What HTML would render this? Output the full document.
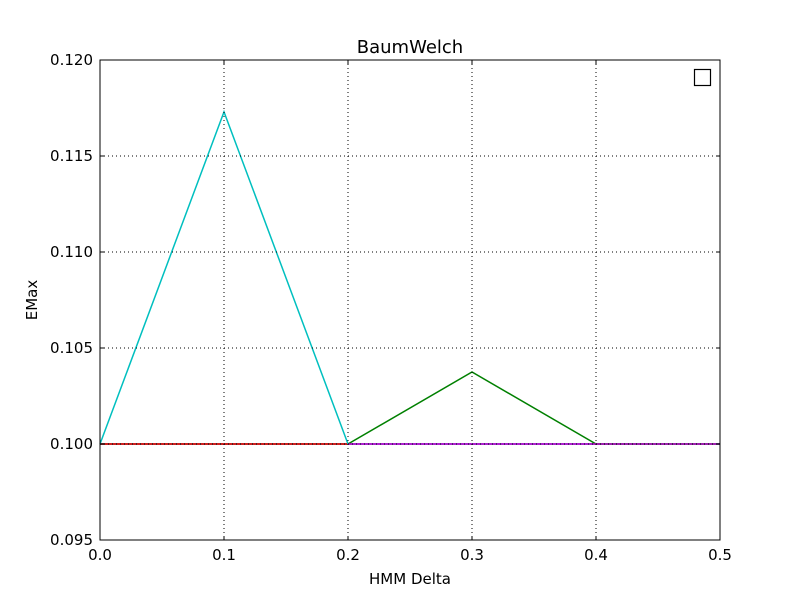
<!DOCTYPE html>
<html><head><meta charset="utf-8"><style>body{margin:0;background:#fff}svg{font-family:"DejaVu Sans","Liberation Sans",sans-serif}</style></head>
<body>
<svg id="c" width="800" height="600">
<rect width="800" height="600" fill="#fff"/>
</svg>
<script>
const xVals=[0,0.1,0.2,0.3,0.4,0.5];
const seriesBlue=[0.1,0.1,0.1,0.1,0.1,0.1];
const seriesGreen=[0.1,0.1,0.1,0.10375,0.1,0.1];
const seriesRed=[0.1,0.1,0.1,null,null,null];
const seriesCyan=[0.1,0.1173,0.1,null,null,null];
const seriesMagenta=[null,null,0.1,0.1,0.1,0.1];
const xTicks=[0,0.1,0.2,0.3,0.4,0.5];
const yTicks=[0.095,0.1,0.105,0.11,0.115,0.12];
const L=100,R=720,T=60,B=540;
const sx=v=>L+(v-0)/(0.5)*(R-L);
const sy=v=>B-(v-0.095)/(0.025)*(B-T);
const svg=document.getElementById('c');
const NS='http://www.w3.org/2000/svg';
function mk(t,a,txt){const e=document.createElementNS(NS,t);for(const k in a)e.setAttribute(k,a[k]);if(txt!=null)e.textContent=txt;svg.appendChild(e);return e;}
const series=[[seriesBlue,'#0000ff','series-blue'],[seriesGreen,'#008000','series-green'],[seriesRed,'#ff0000','series-red'],[seriesCyan,'#00bfbf','series-cyan'],[seriesMagenta,'#bf00bf','series-magenta']];
series.forEach(([d,c,n])=>{let p='';d.forEach((v,i)=>{if(v==null)return;p+=(p?'L':'M')+sx(xVals[i])+','+sy(v);});
const e=mk('path',{d:p,fill:'none',stroke:c,'stroke-width':1.5});

});
xTicks.forEach(t=>{const x=sx(t);
if(t>0&&t<0.5)mk('line',{x1:x,x2:x,y1:T,y2:B,stroke:'#000','stroke-dasharray':'1,3','stroke-width':1});
mk('line',{x1:x,x2:x,y1:B,y2:B-4,stroke:'#000'});mk('line',{x1:x,x2:x,y1:T,y2:T+4,stroke:'#000'});
const e=mk('text',{x:x,y:B+20,'text-anchor':'middle','font-size':15},t.toFixed(1));

});
yTicks.forEach(t=>{const y=sy(t);
if(t>0.095&&t<0.12)mk('line',{x1:L,x2:R,y1:y,y2:y,stroke:'#000','stroke-dasharray':'1,3','stroke-width':1});
mk('line',{x1:L,x2:L+4,y1:y,y2:y,stroke:'#000'});mk('line',{x1:R,x2:R-4,y1:y,y2:y,stroke:'#000'});
const e=mk('text',{x:L-7,y:y+5,'text-anchor':'end','font-size':15},t.toFixed(3));

});
const f=mk('rect',{x:L,y:T,width:R-L,height:B-T,fill:'none',stroke:'#000','stroke-width':1});


const lg=mk('rect',{x:694.5,y:69.5,width:16,height:16,fill:'none',stroke:'#000','stroke-width':1.2});


const ti=mk('text',{x:410,y:53,'text-anchor':'middle','font-size':18},'BaumWelch');


const xl=mk('text',{x:410,y:584,'text-anchor':'middle','font-size':15},'HMM Delta');


const yl=mk('text',{x:37,y:300,'text-anchor':'middle','font-size':15,transform:'rotate(-90 37 300)'},'EMax');


</script>
</body></html>
